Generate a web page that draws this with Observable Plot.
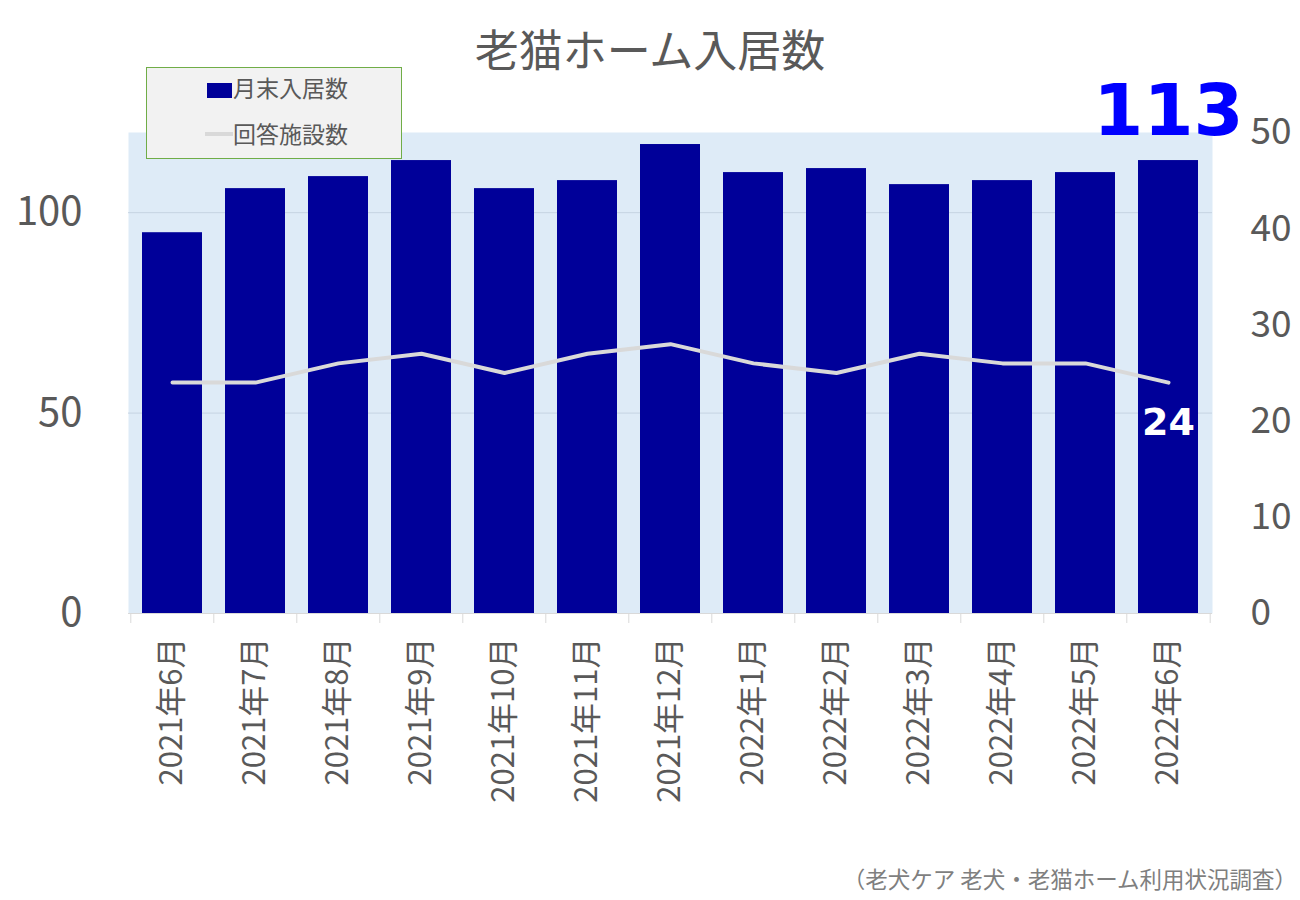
<!DOCTYPE html>
<html><head><meta charset="utf-8">
<script src="https://cdn.jsdelivr.net/npm/d3@7"></script>
<script src="https://cdn.jsdelivr.net/npm/@observablehq/plot@0.6"></script>
<style>
body{margin:0;background:#fff;font-family:"Noto Sans CJK JP","Noto Sans",sans-serif;}
#wrap{position:relative;width:1300px;height:900px;}
#title{position:absolute;left:0;width:1300px;top:16px;text-align:center;font-size:44px;color:#595959;}
#legend{position:absolute;left:146px;top:67px;width:256px;height:92px;background:#f2f2f2;border:1px solid #70ad47;box-sizing:border-box;font-size:23px;color:#595959;}
#caption{position:absolute;right:3px;top:862px;font-size:22.5px;color:#7f7f7f;}
</style></head>
<body><div id="wrap"><div id="chart"></div>
<div id="title">老猫ホーム入居数</div>
<div id="legend">
 <div style="position:absolute;left:60px;top:15px;width:25px;height:15px;background:#000099"></div>
 <div style="position:absolute;left:86px;top:2px;">月末入居数</div>
 <div style="position:absolute;left:58px;top:64px;width:28px;height:4px;background:#d9d9d9"></div>
 <div style="position:absolute;left:86px;top:48px;">回答施設数</div>
</div>
<div id="caption">（老犬ケア 老犬・老猫ホーム利用状況調査）</div>
</div>
<script>
const months = ["2021年6月","2021年7月","2021年8月","2021年9月","2021年10月","2021年11月","2021年12月","2022年1月","2022年2月","2022年3月","2022年4月","2022年5月","2022年6月"];
const residents = [95,106,109,113,106,108,117,110,111,107,108,110,113];
const facilities = [24,24,26,27,25,27,28,26,25,27,26,26,24];
const leftTicks = [0,50,100];
const rightTicks = [0,10,20,30,40,50];
const ratio = 120/50;

const bars = months.map((m,i)=>({m, v: residents[i]}));
const line = months.map((m,i)=>({m, v: facilities[i], y: facilities[i]*ratio}));
const last = bars.length-1;

const chart = Plot.plot({
  width:1300, height:900,
  marginTop:132, marginBottom:287, marginLeft:128, marginRight:88,
  style:{fontFamily:'"Noto Sans CJK JP","Noto Sans",sans-serif', background:"transparent"},
  x:{domain:months, paddingInner:0.28, paddingOuter:0.14, axis:null},
  y:{domain:[0,120], axis:null},
  marks:[
    Plot.frame({fill:"#deebf7", stroke:null}),
    Plot.gridY(leftTicks.slice(1), {stroke:"#c5d3e2", strokeOpacity:1}),
    Plot.barY(bars, {x:"m", y:"v", fill:"#000099"}),
    Plot.line(line, {x:"m", y:"y", stroke:"#d9d9d9", strokeWidth:4, strokeLinecap:"round"}),
    Plot.text([bars[last]], {x:"m", y:"v", text:d=>String(d.v), fill:"#0000ff", fontSize:72, fontWeight:"bold", fontFamily:"DejaVu Sans", lineAnchor:"bottom", dy:-26}),
    Plot.text([line[last]], {x:"m", y:"y", text:d=>String(d.v), fill:"#ffffff", fontSize:38, fontWeight:"bold", fontFamily:"DejaVu Sans", dy:40}),
    Plot.axisY(leftTicks, {anchor:"left", tickSize:0, tickPadding:46, fontSize:40, color:"#595959", label:null}),
    Plot.axisY(rightTicks.map(v=>v*ratio), {anchor:"right", tickSize:0, tickPadding:38, fontSize:37, color:"#595959", tickFormat:d=>String(Math.round(d/ratio)), label:null}),
    Plot.axisX(months, {anchor:"bottom", tickSize:10, tickFormat:()=>"", dx:-41.7, stroke:"#d9d9d9", label:null}),
    Plot.axisX([months[last]], {anchor:"bottom", tickSize:10, tickFormat:()=>"", dx:41.7, stroke:"#d9d9d9", label:null}),
    Plot.axisX(months, {anchor:"bottom", tickSize:0, tickPadding:24, tickRotate:-90, fontSize:31, color:"#595959", label:null}),
    Plot.ruleY([0], {stroke:"#d9d9d9"})
  ]
});
document.getElementById("chart").appendChild(chart);
</script></body></html>
